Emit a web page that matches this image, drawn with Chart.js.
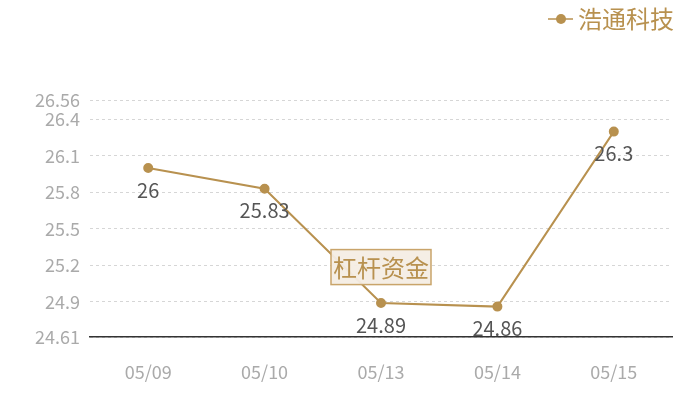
<!DOCTYPE html>
<html>
<head>
<meta charset="utf-8">
<script src="https://cdn.jsdelivr.net/npm/chart.js@4/dist/chart.umd.min.js"></script>
<style>
  html, body { margin: 0; padding: 0; background: #fff; }
  #wrap { width: 700px; height: 400px; }
</style>
</head>
<body>
<div id="wrap"><canvas id="myChart" width="700" height="400"></canvas></div>
<script>
const dates = ['05/09', '05/10', '05/13', '05/14', '05/15'];
const prices = [26, 25.83, 24.89, 24.86, 26.3];
const yTicks = [24.61, 24.9, 25.2, 25.5, 25.8, 26.1, 26.4, 26.56];
const seriesName = '浩通科技';
const watermark = '杠杆资金';

const gold = '#b8914f';
const font = '"Noto Sans CJK SC", "Noto Sans", sans-serif';

// value labels, legend and watermark box
const extras = {
  id: 'extras',
  afterDatasetsDraw(chart) {
    const c = chart.ctx;
    const area = chart.chartArea;
    const meta = chart.getDatasetMeta(0);

    c.save();
    c.font = '20px ' + font;
    c.fillStyle = '#555';
    c.textAlign = 'center';
    c.textBaseline = 'middle';
    meta.data.forEach((pt, i) => {
      c.fillText(String(prices[i]), pt.x, pt.y + 22);
    });

    // watermark box
    const cx = (area.left + area.right) / 2;
    const cy = area.top + (area.bottom - area.top) * 0.705;
    c.font = '24px ' + font;
    const w = c.measureText(watermark).width + 4;
    const h = 35;
    c.fillStyle = 'rgba(244,237,228,0.95)';
    c.fillRect(cx - w / 2, cy - h / 2, w, h);
    c.strokeStyle = '#c9a46a';
    c.lineWidth = 1.5;
    c.strokeRect(cx - w / 2, cy - h / 2, w, h);
    c.fillStyle = gold;
    c.fillText(watermark, cx, cy + 1);

    // legend
    c.font = '24px ' + font;
    c.textAlign = 'left';
    const lx = 578;
    const ly = 19;
    c.fillText(seriesName, lx, ly);
    c.strokeStyle = gold;
    c.lineWidth = 1.5;
    c.beginPath();
    c.moveTo(548, ly);
    c.lineTo(573, ly);
    c.stroke();
    c.beginPath();
    c.arc(561, ly, 5, 0, Math.PI * 2);
    c.fill();
    c.restore();
  }
};

new Chart(document.getElementById('myChart'), {
  type: 'line',
  data: {
    labels: dates,
    datasets: [{
      label: seriesName,
      data: prices,
      borderColor: gold,
      backgroundColor: gold,
      borderWidth: 2,
      pointRadius: 4,
      pointHoverRadius: 4,
      tension: 0,
    }]
  },
  options: {
    responsive: false,
    animation: false,
    layout: { padding: { top: 100, right: 28, left: 0, bottom: 0 } },
    plugins: {
      legend: { display: false },
      tooltip: { enabled: false },
    },
    scales: {
      x: {
        offset: true,
        grid: { display: false, drawTicks: false },
        border: { display: true, color: '#333', width: 1.5 },
        ticks: { color: '#aaa', font: { size: 18, family: font }, padding: 24 },
        afterFit(scale) { scale.height = 63; },
      },
      y: {
        min: 24.61,
        max: 26.56,
        afterBuildTicks(scale) {
          scale.ticks = yTicks.map(v => ({ value: v }));
        },
        grid: {
          color: '#d6d6d6',
          drawTicks: false,
        },
        border: { display: false, dash: [3, 3] },
        ticks: {
          color: '#aaa',
          font: { size: 18, family: font },
          padding: 10,
          callback: v => String(v),
        },
        afterFit(scale) { scale.width = 90; },
      }
    }
  },
  plugins: [extras]
});
</script>
</body>
</html>
